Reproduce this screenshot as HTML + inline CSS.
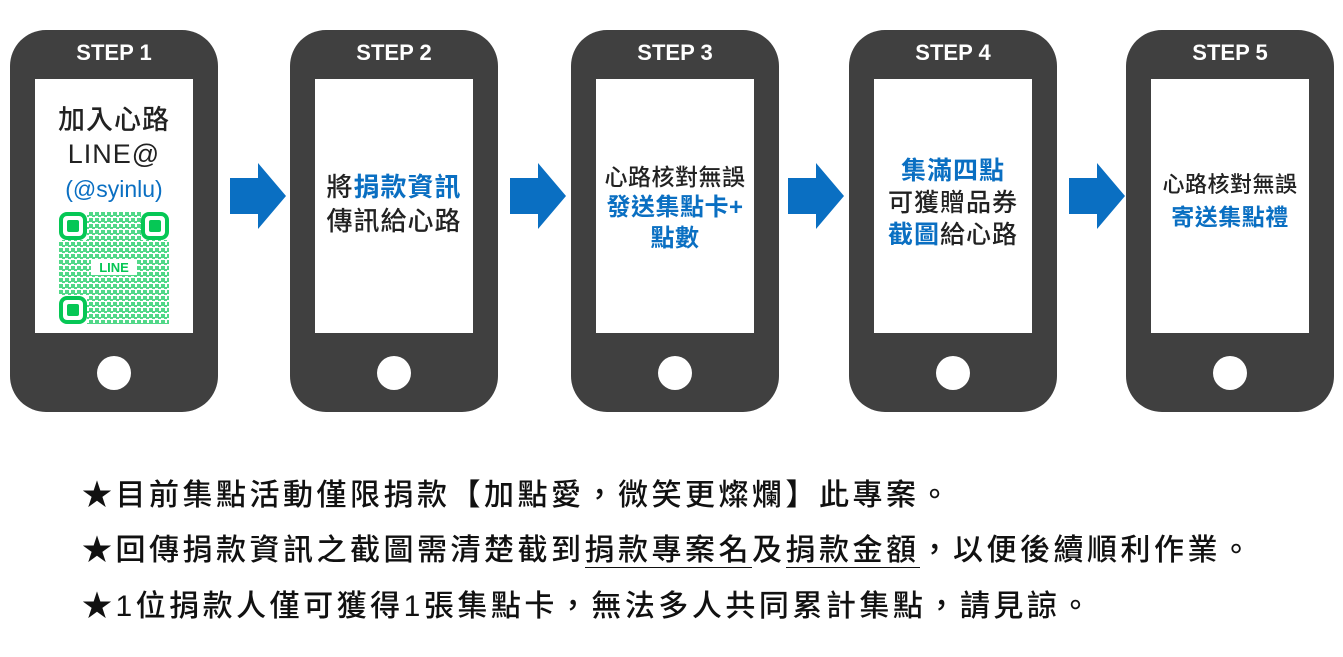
<!DOCTYPE html>
<html><head><meta charset="utf-8"><style>
body{margin:0;width:1343px;height:657px;background:#fff;position:relative;overflow:hidden;font-family:"Liberation Sans","Noto Sans CJK TC",sans-serif}
.ph{position:absolute;top:30px;width:208px;height:382px;background:#404040;border-radius:36px}
.st{position:absolute;top:10px;left:0;width:100%;text-align:center;color:#fff;font-weight:bold;font-size:22px}
.sc{position:absolute;left:25px;top:49px;width:158px;height:254px;background:#fff;text-align:center;color:#222;font-weight:500}
.bt{position:absolute;left:87px;top:326px;width:34px;height:34px;border-radius:50%;background:#fff}
.b{color:#0a6fc2;font-weight:bold}
.ar{position:absolute;top:163px}
.note{position:absolute;left:82px;font-size:30px;font-weight:500;color:#111;letter-spacing:3.5px;white-space:nowrap}
.u{border-bottom:1.5px solid #111}
</style></head><body>
<div class="ph" style="left:10px"><div class="st">STEP 1</div><div class="sc">
<div style="margin-top:24px;line-height:34px;font-size:27px;letter-spacing:1px">加入心路<br>LINE@<br><span style="color:#0a6fc2;font-size:23px;letter-spacing:0">(@syinlu)</span></div>
<svg width="110" height="112" style="position:absolute;left:24px;top:133px" viewBox="0 0 110 112">
<defs><pattern id="p" width="6" height="6" patternUnits="userSpaceOnUse"><rect width="4" height="4" fill="#06c755"/><rect x="3" y="3" width="3" height="2" fill="#06c755"/></pattern></defs>
<rect x="0" y="0" width="110" height="112" fill="url(#p)" opacity=".7"/>
<g fill="#fff"><rect x="0" y="0" width="28" height="28"/><rect x="82" y="0" width="28" height="28"/><rect x="0" y="84" width="28" height="28"/><rect x="32" y="47" width="46" height="16"/></g>
<g fill="none" stroke="#06c755" stroke-width="4"><rect x="2" y="2" width="24" height="24" rx="6"/><rect x="84" y="2" width="24" height="24" rx="6"/><rect x="2" y="86" width="24" height="24" rx="6"/></g>
<g fill="#06c755"><rect x="8" y="8" width="12" height="12" rx="2"/><rect x="90" y="8" width="12" height="12" rx="2"/><rect x="8" y="92" width="12" height="12" rx="2"/></g>
<text x="55" y="60" text-anchor="middle" font-family="Liberation Sans" font-weight="bold" font-size="13" fill="#06c755">LINE</text></svg>
</div><div class="bt"></div></div>
<div class="ph" style="left:290px"><div class="st">STEP 2</div><div class="sc"><div style="margin-top:91px;line-height:34px;font-size:26px;letter-spacing:1px">將<span class="b">捐款資訊</span><br>傳訊給心路</div></div><div class="bt"></div></div>
<div class="ph" style="left:571px"><div class="st">STEP 3</div><div class="sc"><div style="margin-top:83px;line-height:30px;font-size:23px;letter-spacing:0.5px">心路核對無誤<br><span class="b" style="font-size:24px">發送集點卡+<br>點數</span></div></div><div class="bt"></div></div>
<div class="ph" style="left:849px"><div class="st">STEP 4</div><div class="sc"><div style="margin-top:76px;line-height:32px;font-size:25px;letter-spacing:1px"><span class="b">集滿四點</span><br>可獲贈品券<br><span class="b">截圖</span>給心路</div></div><div class="bt"></div></div>
<div class="ph" style="left:1126px"><div class="st">STEP 5</div><div class="sc"><div style="margin-top:90px;line-height:32px;font-size:22px;letter-spacing:0.5px">心路核對無誤<br><span class="b" style="font-size:23px">寄送集點禮</span></div></div><div class="bt"></div></div>
<svg class="ar" style="left:230px" width="57" height="66"><polygon points="0,15 28,15 28,0 56,33 28,66 28,51 0,51" fill="#0a6fc2"/></svg>
<svg class="ar" style="left:510px" width="57" height="66"><polygon points="0,15 28,15 28,0 56,33 28,66 28,51 0,51" fill="#0a6fc2"/></svg>
<svg class="ar" style="left:788px" width="57" height="66"><polygon points="0,15 28,15 28,0 56,33 28,66 28,51 0,51" fill="#0a6fc2"/></svg>
<svg class="ar" style="left:1069px" width="57" height="66"><polygon points="0,15 28,15 28,0 56,33 28,66 28,51 0,51" fill="#0a6fc2"/></svg>
<div class="note" style="top:470px">★目前集點活動僅限捐款【加點愛，微笑更燦爛】此專案。</div>
<div class="note" style="top:525px">★回傳捐款資訊之截圖需清楚截到<span class="u">捐款專案名</span>及<span class="u">捐款金額</span>，以便後續順利作業。</div>
<div class="note" style="top:581px">★1位捐款人僅可獲得1張集點卡，無法多人共同累計集點，請見諒。</div>
</body></html>
